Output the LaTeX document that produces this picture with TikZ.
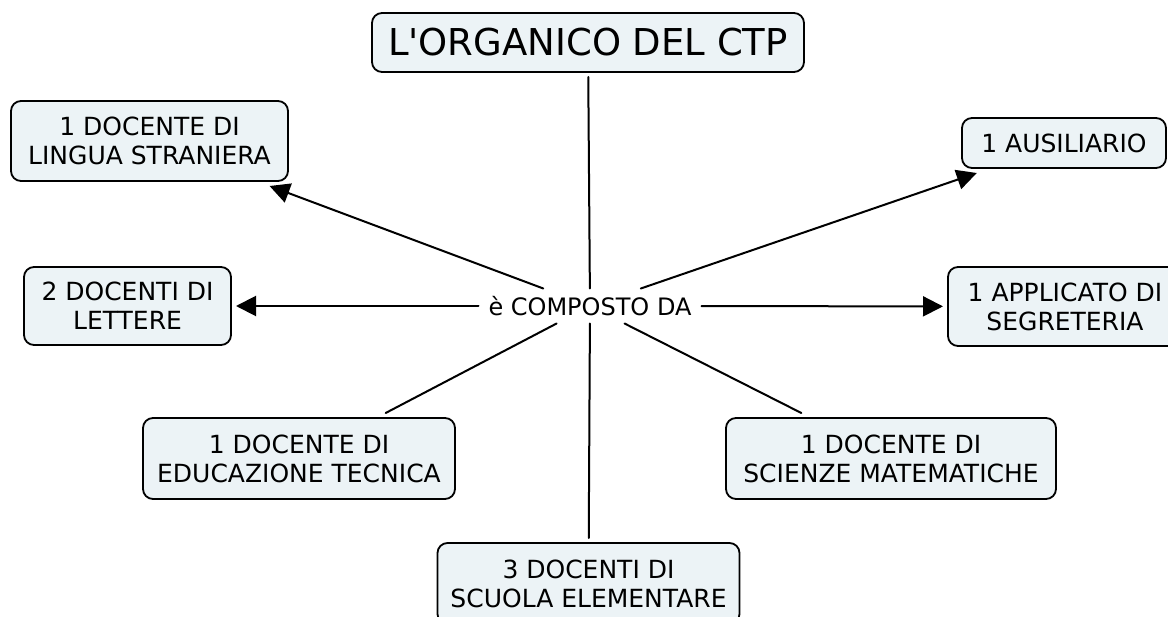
\documentclass[tikz,border=0pt]{standalone}
\usepackage{fontspec}
\setmainfont{DejaVu Sans}
\usepackage{color}
\usetikzlibrary{arrows.meta}
\definecolor{cmapfill}{RGB}{236,243,246}

\begin{document}
\begin{tikzpicture}[line cap=round,line join=round,>={Triangle[length=20pt,width=20pt]},x=1pt,y=-1pt,
    concetto/.style={draw=black,line width=1.8pt,fill=cmapfill,rounded corners=10pt,align=center,inner sep=0pt,outer sep=5pt,font=\fontsize{25}{29}\selectfont},
    frase/.style={inner sep=0pt,outer sep=0pt,minimum width=223pt,minimum height=35pt,font=\fontsize{24}{29}\selectfont},
    legame/.style={line width=2pt}]
      \useasboundingbox (0,0) rectangle (1168,617);
      \clip (0,0) rectangle (1168,617);
      \node[concetto,minimum width=432pt,minimum height=59pt,font=\fontsize{37}{42}\selectfont] (titolo) at (588,42.5) {L\textquotesingle ORGANICO DEL CTP};
      \node[frase] (composto) at (590,306) {è COMPOSTO DA};
      \node[concetto,minimum width=277pt,minimum height=80pt] (lingua) at (149.5,141) {1 DOCENTE DI\\LINGUA STRANIERA};
      \node[concetto,minimum width=207pt,minimum height=78pt] (lettere) at (127.5,306) {2 DOCENTI DI\\LETTERE};
      \node[concetto,minimum width=312pt,minimum height=81pt] (tecnica) at (299,458.5) {1 DOCENTE DI\\EDUCAZIONE TECNICA};
      \node[concetto,minimum width=302pt,minimum height=81pt] (elementare) at (588.5,583.5) {3 DOCENTI DI\\SCUOLA ELEMENTARE};
      \node[concetto,minimum width=330pt,minimum height=81pt] (scienze) at (891,458.5) {1 DOCENTE DI\\SCIENZE MATEMATICHE};
      \node[concetto,minimum width=234pt,minimum height=79pt] (applicato) at (1065,306.5) {1 APPLICATO DI\\SEGRETERIA};
      \node[concetto,minimum width=204pt,minimum height=50pt] (ausiliario) at (1064,143) {1 AUSILIARIO};
      \draw[legame] (titolo) -- (composto);
      \draw[legame,->] (composto) -- (lingua);
      \draw[legame,->] (composto) -- (lettere);
      \draw[legame] (composto) -- (tecnica);
      \draw[legame] (composto) -- (elementare);
      \draw[legame] (composto) -- (scienze);
      \draw[legame,->] (composto) -- (applicato);
      \draw[legame,->] (composto) -- (ausiliario);
\end{tikzpicture}
\end{document}
